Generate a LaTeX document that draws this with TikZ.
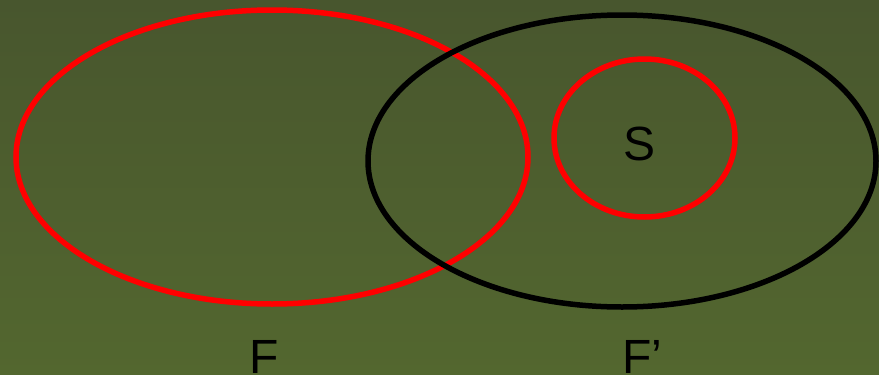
\documentclass[tikz,border=0pt]{standalone}
\usepackage{fontspec}
\setmainfont{Liberation Sans}
\begin{document}
\begin{tikzpicture}[x=1pt,y=-1pt,
  ring/.style={line width=5.5pt},
  lbl/.style={font=\fontsize{48}{48}\selectfont, text=black, inner sep=0pt}]
\useasboundingbox (0,0) rectangle (879,375);
\shade[top color={rgb,255:red,72;green,86;blue,46}, bottom color={rgb,255:red,83;green,103;blue,47}] (0,0) rectangle (879,375);
\draw[ring, red] (272,157) ellipse [x radius=256, y radius=147];
\draw[ring, black] (622,161) ellipse [x radius=254, y radius=146];
\draw[ring, red] (644.5,138) ellipse [x radius=90.5, y radius=79];
\node[lbl] (S) at (640,143.5) {S};
\node[lbl, anchor=base] (F) at (264,373) {F};
\node[lbl, anchor=base] (Fp) at (642,373) {F’};
\end{tikzpicture}
\end{document}
